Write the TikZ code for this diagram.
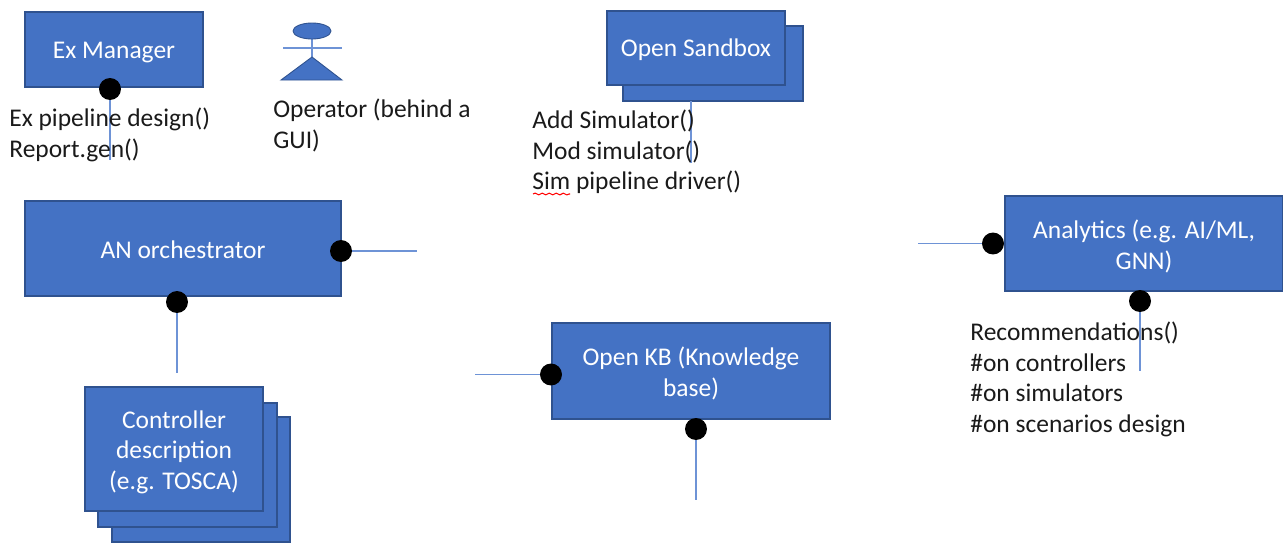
\documentclass[tikz,border=0pt]{standalone}
\usepackage{fontspec}
\setmainfont{Carlito}
\usetikzlibrary{decorations.pathmorphing}

\definecolor{boxfill}{HTML}{4472C4}
\definecolor{boxedge}{HTML}{2F528F}
\definecolor{wireblue}{HTML}{6E93D6}
\definecolor{inktext}{HTML}{1A1A1A}

\newcommand{\dropline}[1]{\rule{0pt}{#1}}

\tikzset{
    block/.style={draw=boxedge,line width=0.6pt,fill=boxfill,text=white,font=\fontsize{14.5}{17.6}\selectfont,align=center,inner sep=0pt},
    port/.style={circle,fill=black,minimum size=12.5pt,inner sep=0pt},
    wire/.style={wireblue,line width=0.9pt},
    call/.style={anchor=west,text=inktext,font=\fontsize{14.5}{17.4}\selectfont,align=left,inner sep=0pt}
}

\begin{document}
\begin{tikzpicture}[x=0.02cm,y=-0.02cm]
    \useasboundingbox (0,0) rectangle (1283,542);

    % Ex Manager
    \node[block,minimum width=178*0.02cm,minimum height=75*0.02cm] (exmanager) at (114,49.5) {\dropline{12.5pt}Ex Manager};
    \node[port] (export) at (110,89) {};
    \coordinate (exend) at (110,160);
    \draw[wire] (export) -- (exend);
    \node[call] (excalls) at (9,135) {Ex pipeline design()\\Report.gen()};

    % Operator figure
    \draw[wire] (312,39) -- (312,57);
    \draw[wire] (283,48) -- (342,48);
    \draw[boxedge,line width=0.5pt,fill=boxfill] (312,31) ellipse (19 and 8);
    \draw[boxedge,line width=0.5pt,fill=boxfill] (281,80) -- (342,80) -- (312,57) -- cycle;
    \node[call] (operator) at (273,125.5) {Operator (behind a\\GUI)};

    % Open Sandbox
    \node[block,minimum width=180*0.02cm,minimum height=75*0.02cm] (sandboxback) at (713,63.5) {};
    \node[block,minimum width=178*0.02cm,minimum height=74*0.02cm] (sandbox) at (696,48) {\dropline{12.5pt}Open Sandbox};
    \coordinate (sandboxfoot) at (691,101);
    \coordinate (sandboxend) at (691,163);
    \draw[wire] (sandboxfoot) -- (sandboxend);
    \node[call] (sandboxcalls) at (532,152) {Add Simulator()\\Mod simulator()\\Sim pipeline driver()};
    \draw[red,line width=0.6pt,decorate,decoration={snake,amplitude=0.5pt,segment length=4pt}] (533,194) -- (570,194);

    % AN orchestrator
    \node[block,minimum width=316*0.02cm,minimum height=95*0.02cm] (orchestrator) at (183,248.5) {\dropline{11.5pt}AN orchestrator};
    \node[port] (orchright) at (341,251) {};
    \node[port] (orchdown) at (177,302) {};
    \coordinate (orchrightend) at (417,251);
    \coordinate (orchdownend) at (177,373);
    \draw[wire] (orchright) -- (orchrightend);
    \draw[wire] (orchdown) -- (orchdownend);

    % Controller description
    \node[block,minimum width=178*0.02cm,minimum height=125*0.02cm] (controllerc) at (201,479.5) {};
    \node[block,minimum width=179*0.02cm,minimum height=124*0.02cm] (controllerb) at (187.5,465) {};
    \node[block,minimum width=178*0.02cm,minimum height=124*0.02cm] (controller) at (174,449) {\dropline{13.8pt}Controller\\description\\(e.g. TOSCA)};

    % Open KB
    \node[block,minimum width=278*0.02cm,minimum height=96*0.02cm] (openkb) at (691,371) {\dropline{13.8pt}Open KB (Knowledge\\base)};
    \node[port] (kbleft) at (551,374.5) {};
    \node[port] (kbdown) at (696,429) {};
    \coordinate (kbleftend) at (475,374.5);
    \coordinate (kbdownend) at (696,500);
    \draw[wire] (kbleft) -- (kbleftend);
    \draw[wire] (kbdown) -- (kbdownend);

    % Analytics
    \node[block,minimum width=278*0.02cm,minimum height=95*0.02cm] (analytics) at (1144,243.5) {\dropline{13.8pt}Analytics (e.g. AI/ML,\\GNN)};
    \node[port] (anleft) at (993,243.5) {};
    \node[port] (andown) at (1140,301) {};
    \coordinate (anleftend) at (918,243.5);
    \coordinate (andownend) at (1140,371);
    \draw[wire] (anleft) -- (anleftend);
    \draw[wire] (andown) -- (andownend);
    \node[call] (ancalls) at (970,379.5) {Recommendations()\\\#on controllers\\\#on simulators\\\#on scenarios design};
\end{tikzpicture}
\end{document}
